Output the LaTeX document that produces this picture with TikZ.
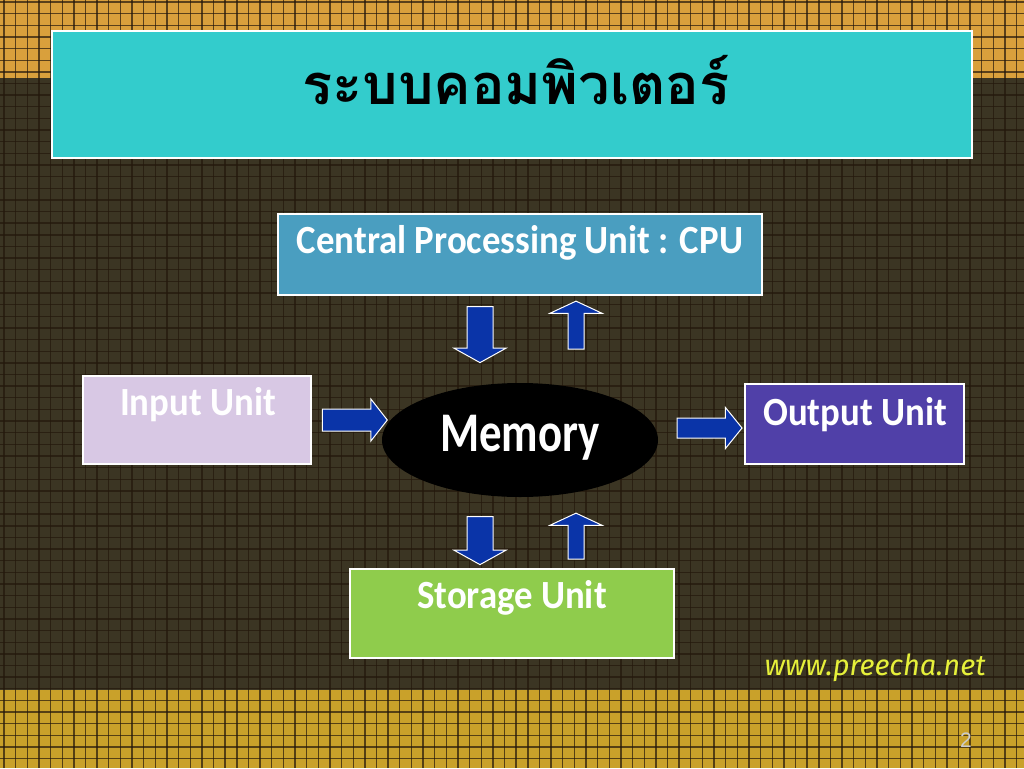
\documentclass[tikz,border=0pt]{standalone}
\usepackage{fontspec}
\setmainfont{Carlito}
\setsansfont{Liberation Sans}
\newfontfamily\thaifont[Script=Thai]{Loma}
\newfontfamily\condfont[FakeStretch=0.92]{Carlito}
\newfontfamily\narrowfont[FakeStretch=0.8]{Carlito}
\newfontfamily\webfont{Fira Sans}
\usetikzlibrary{shapes.arrows,shapes.geometric}
\definecolor{bgdark}{HTML}{3B3523}
\definecolor{bandtop}{HTML}{D9A03C}
\definecolor{bandbot}{HTML}{C9A12A}
\definecolor{gridcol}{HTML}{24180C}
\definecolor{titlecyan}{HTML}{33CCCC}
\definecolor{cpublue}{HTML}{4A9EC0}
\definecolor{inlilac}{HTML}{D8C8E4}
\definecolor{outpurple}{HTML}{5040A8}
\definecolor{storgreen}{HTML}{8FCC4C}
\definecolor{arrowblue}{HTML}{0A34A8}
\definecolor{webyellow}{HTML}{E6F03A}

\begin{document}
\begin{tikzpicture}[x=1pt,y=-1pt,
  unit/.style={draw=white,line width=1.2pt,inner sep=0pt},
  unittext/.style={anchor=base,text=white,font=\condfont\bfseries\fontsize{40}{40}\selectfont},
  blockarrow/.style={single arrow,draw=white,line width=1pt,fill=arrowblue,inner xsep=0pt,minimum width=0pt},
  gridline/.style={gridcol,line width=1.4pt,opacity=0.7}
]
\useasboundingbox (0,0) rectangle (1024,768);
% background
\fill[bgdark] (0,0) rectangle (1024,768);
\fill[bandtop] (0,0) rectangle (1024,78);
\fill[bandbot] (0,690) rectangle (1024,768);
\foreach \i in {0,...,87}
  \draw[gridline] ({4+\i*11.64},0) -- ({4+\i*11.64},768);
\foreach \j in {0,...,65}
  \draw[gridline] (0,{2+\j*11.64}) -- (1024,{2+\j*11.64});

% title
\node[unit,fill=titlecyan,minimum width=920pt,minimum height=127pt] (title) at (512,94.5) {};
\node[anchor=base,text=black,font=\thaifont\bfseries\fontsize{56}{56}\selectfont] (titletext) at (516,104) {ระบบคอมพิวเตอร์};

% units
\node[unit,fill=cpublue,minimum width=484pt,minimum height=81pt] (cpu) at (520,254.5) {};
\node[unittext] (cputext) at (520,253) {Central Processing Unit : CPU};
\node[unit,fill=inlilac,minimum width=228pt,minimum height=88pt] (input) at (197,420) {};
\node[unittext] (inputtext) at (198,415) {Input Unit};
\node[unit,fill=outpurple,minimum width=219pt,minimum height=80pt] (output) at (854.5,424) {};
\node[unittext] (outputtext) at (855,425) {Output Unit};
\node[unit,fill=storgreen,minimum width=324pt,minimum height=89pt] (storage) at (512,613.5) {};
\node[unittext] (storagetext) at (512,608) {Storage Unit};
\node[ellipse,fill=black,minimum width=276pt,minimum height=114pt,inner sep=0pt] (mem) at (520,440) {};
\node[unittext,font=\narrowfont\bfseries\fontsize{56}{56}\selectfont] (memtext) at (520,451) {Memory};

% block arrows
\node[blockarrow,rotate=-90,minimum height=56pt,inner ysep=12.5pt,single arrow head extend=13pt,single arrow tip angle=122] (cpudown) at (480,331) {};
\node[blockarrow,rotate=90,minimum height=48pt,inner ysep=7.5pt,single arrow head extend=18pt,single arrow tip angle=130] (cpuup) at (576,327) {};
\node[blockarrow,rotate=-90,minimum height=48pt,inner ysep=12.5pt,single arrow head extend=13pt,single arrow tip angle=122] (memdown) at (480,537) {};
\node[blockarrow,rotate=90,minimum height=46pt,inner ysep=7.5pt,single arrow head extend=18pt,single arrow tip angle=130] (memup) at (576,538) {};
\node[blockarrow,minimum height=65pt,inner ysep=10.5pt,single arrow head extend=10pt,single arrow tip angle=104] (inarrow) at (350.5,420) {};
\node[blockarrow,minimum height=65pt,inner ysep=9.5pt,single arrow head extend=10.5pt,single arrow tip angle=102] (outarrow) at (705.5,428) {};

% footer
\node[anchor=base,text=webyellow,font=\webfont\itshape\fontsize{29}{29}\selectfont] (web) at (875,675) {www.preecha.net};
\node[anchor=base,text=black!20,font=\sffamily\fontsize{21}{21}\selectfont] (pagenum) at (966,747) {2};
\end{tikzpicture}
\end{document}
